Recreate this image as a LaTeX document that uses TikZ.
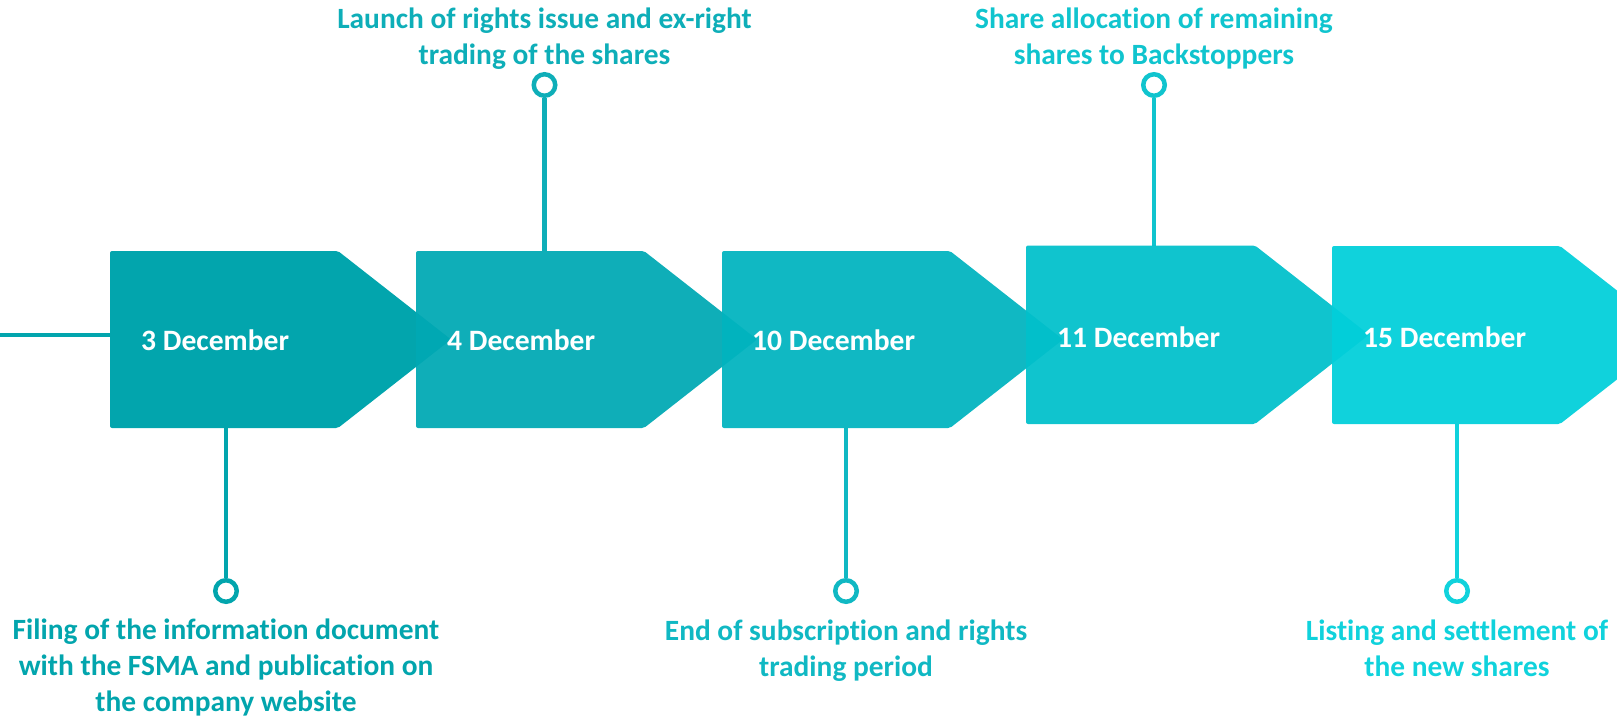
\documentclass[tikz,border=0pt]{standalone}
\usepackage{fontspec}
\setmainfont{Carlito}[Ligatures=NoCommon]
\definecolor{cA}{RGB}{2,165,173}
\definecolor{cB}{RGB}{14,174,184}
\definecolor{cC}{RGB}{16,184,195}
\definecolor{cD}{RGB}{16,196,206}
\definecolor{cE}{RGB}{16,210,220}
% fills used with a little transparency so each tip shows through the next box
\definecolor{fB}{RGB}{0,169,180}
\definecolor{fC}{RGB}{1,180,191}
\definecolor{fD}{RGB}{1,192,203}
\definecolor{fE}{RGB}{1,207,218}
\begin{document}
\begin{tikzpicture}[x=1pt,y=-1pt,
  datetext/.style={text=white, font=\fontsize{29.6}{35}\selectfont\bfseries, anchor=west, inner sep=0pt},
  note/.style={text=#1, font=\fontsize{29.4}{36}\selectfont\bfseries, align=center, inner sep=0pt, anchor=base},
  ring/.style={circle, draw=#1, line width=4.5pt, minimum size=21.5pt, inner sep=0pt, fill=white},
  stem/.style={draw=#1, line width=4.5pt},
  chev/.style={fill=#1, rounded corners=2pt},
]
\useasboundingbox (0,0) rectangle (1617,720);

% lead-in line and anchor points of the stems
\coordinate (start) at (0,335);
\coordinate (s1) at (226,428);
\coordinate (s2) at (544.5,251);
\coordinate (s3) at (846,428);
\coordinate (s4) at (1154,245.5);
\coordinate (s5) at (1457,424);
\coordinate (e1) at (112,335);

% rings at the ends of the stems
\node[ring=cA] (r1) at (226,591) {};
\node[ring=cB] (r2) at (544.5,85) {};
\node[ring=cC] (r3) at (846,591) {};
\node[ring=cD] (r4) at (1154,85) {};
\node[ring=cE] (r5) at (1457,591) {};

\draw[stem=cA] (start) -- (e1);
\draw[stem=cA] (s1) -- (r1);
\draw[stem=cB] (s2) -- (r2);
\draw[stem=cC] (s3) -- (r3);
\draw[stem=cD] (s4) -- (r4);
\draw[stem=cE] (s5) -- (r5);

% chevron boxes
\fill[chev=cA] (110,251) -- (338,251) -- (451,339.5) -- (338,428) -- (110,428) -- cycle;
\fill[chev=fB, fill opacity=0.94] (416,251) -- (644,251) -- (757,339.5) -- (644,428) -- (416,428) -- cycle;
\fill[chev=fC, fill opacity=0.94] (722,251) -- (950,251) -- (1063,339.5) -- (950,428) -- (722,428) -- cycle;
\fill[chev=fD, fill opacity=0.94] (1026,245.5) -- (1255,245.5) -- (1369,334.7) -- (1255,424) -- (1026,424) -- cycle;
\fill[chev=fE, fill opacity=0.94] (1332,246) -- (1560,246) -- (1674,335) -- (1560,424) -- (1332,424) -- cycle;

% dates
\node[datetext] (d1) at (141,340) {3 December};
\node[datetext] (d2) at (447,340) {4 December};
\node[datetext] (d3) at (752,340) {10 December};
\node[datetext] (d4) at (1057,337) {11 December};
\node[datetext] (d5) at (1363,337) {15 December};

% event descriptions (base anchor sits on the last line)
\node[note=cA] (n1) at (226,711) {Filing of the information document\\with the FSMA and publication on\\the company website};
\node[note=cB] (n2) at (544.5,64) {Launch of rights issue and ex-right\\trading of the shares};
\node[note=cC] (n3) at (846,676) {End of subscription and rights\\trading period};
\node[note=cD] (n4) at (1154,64) {Share allocation of remaining\\shares to Backstoppers};
\node[note=cE] (n5) at (1457,676) {Listing and settlement of\\the new shares};
\end{tikzpicture}
\end{document}
